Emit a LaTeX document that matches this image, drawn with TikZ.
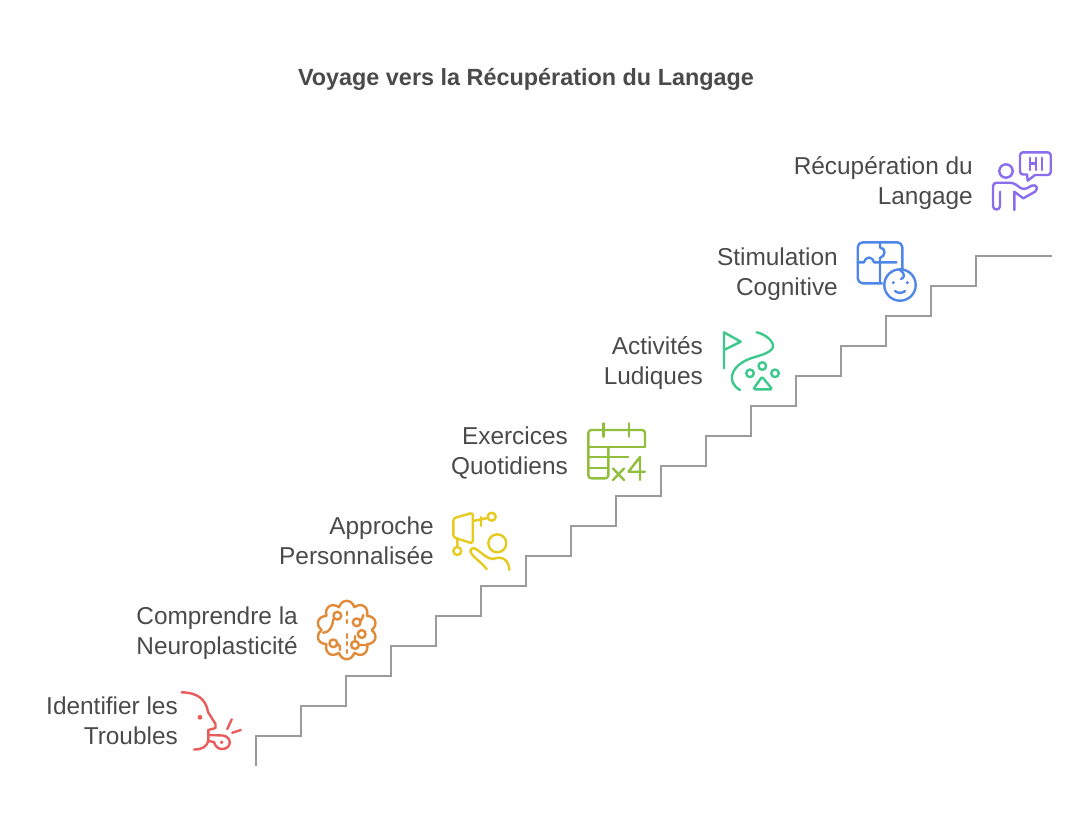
\documentclass[tikz,border=0pt]{standalone}
\usepackage{fontspec}
\setmainfont{Liberation Sans}
\definecolor{inkgray}{HTML}{4A4A4A}
\definecolor{stairgray}{HTML}{9B9B9B}
\definecolor{icred}{HTML}{E85C5C}
\definecolor{icorange}{HTML}{E08A3A}
\definecolor{icyellow}{HTML}{E6CB1E}
\definecolor{icgreen}{HTML}{92BE3E}
\definecolor{icteal}{HTML}{3DC88C}
\definecolor{icblue}{HTML}{4F87E8}
\definecolor{icpurple}{HTML}{8A6DEE}
\begin{document}
\begin{tikzpicture}[
  x=1pt, y=-1pt,
  label/.style={anchor=east, align=right, text=inkgray, inner sep=0pt,
                font=\fontsize{24.4}{30}\selectfont},
  heading/.style={text=inkgray, inner sep=0pt, font=\fontsize{23.4}{26}\selectfont\bfseries},
  stair/.style={draw=stairgray, line width=2.7pt},
  icon/.style={line width=2.4pt, line cap=round, line join=round}
]
  \useasboundingbox (0, 0) rectangle (1083, 828);

  \node[heading] (title) at (526, 79) {Voyage vers la Récupération du Langage};

  \node[label] (troubles) at (178, 721) {Identifier les\\Troubles};
  \node[label] (neuro)    at (298, 633) {Comprendre la\\Neuroplasticité};
  \node[label] (approche) at (434, 541) {Approche\\Personnalisée};
  \node[label] (exercice) at (568, 453) {Exercices\\Quotidiens};
  \node[label] (ludique)  at (703, 363) {Activités\\Ludiques};
  \node[label] (stimul)   at (838, 274) {Stimulation\\Cognitive};
  \node[label] (recup)    at (973, 183) {Récupération du\\Langage};

  \coordinate (stairbase) at (256, 766);
  \draw[stair] (stairbase) -- ++(0, -30)
    \foreach \i in {1,...,16} { -- ++(45, 0) -- ++(0, -30) } -- (1052, 256);

  % red
  \draw[icon, icred] (181.7, 692.3) .. controls (197, 692.5) and (206, 699) .. (208, 712)
    -- (215.5, 724) -- (215.5, 728) -- (208.3, 730) -- (208.3, 740)
    .. controls (207, 747) and (202, 749.5) .. (194, 749.5);
  \draw[icon, icred] (208.3, 735) -- (223, 735.5) .. controls (232, 737) and (232, 748) .. (223, 749)
    .. controls (218, 749.5) and (215, 746) .. (214, 742) -- (208.3, 741);
  \fill[icred] (200, 717.3) circle (2.4) (221.7, 742.3) circle (1.9);
  \draw[icon, icred] (231.7, 719.3) -- (227.3, 729) (240.7, 730) -- (232.3, 732.7);

  % orange
  \draw[icon, icorange] (346.7+25, 630)
    \foreach \a in {36,72,...,360} { to[bend left=70, looseness=1.5] ({346.7+25*cos(\a)}, {630+24*sin(\a)}) };
  \draw[icon, icorange] (346.7, 611.7) -- (346.7, 615) (346.7, 620) -- (346.7, 623)
    (346.7, 634) -- (346.7, 638) (346.7, 642) -- (346.7, 645) (346.7, 650) -- (346.7, 653);
  \draw[icon, icorange] (337.3, 615.7) circle (3.9) (333.5, 619) .. controls (332, 626) and (331, 632) .. (323, 632.7);
  \draw[icon, icorange] (356.7, 622.3) circle (3.9) (360.5, 621) .. controls (362, 619) and (363, 617) .. (363.3, 615);
  \draw[icon, icorange] (361.7, 634) circle (3.9);
  \draw[icon, icorange] (355, 645) circle (3.9) (358.9, 645) -- (368, 645) (355, 641) -- (355, 636);
  \draw[icon, icorange] (333.3, 643.3) circle (3.9) (337, 643.5) .. controls (340, 644) and (340, 647) .. (340, 650);

  % yellow
  \draw[icon, icyellow, rounded corners=2.5pt] (453.3, 518.3) -- (472.7, 512.7) -- (472.7, 543.5) -- (453.3, 537.3) -- cycle;
  \draw[icon, icyellow] (473, 521) -- (487.7, 518) (481, 517) -- (481, 526);
  \draw[icon, icyellow] (491.7, 516.7) circle (4) (457.3, 551) circle (4) (457.3, 538.3) -- (457.3, 547);
  \draw[icon, icyellow] (497.3, 543.3) circle (9);
  \draw[icon, icyellow] (486.7, 569) .. controls (480, 561) and (474, 558) .. (471, 553)
    .. controls (469, 549) and (473, 547) .. (476, 549) .. controls (482, 553) and (487, 559) .. (493, 559)
    .. controls (503, 555) and (509, 561) .. (509.3, 570);

  % green
  \draw[icon, icgreen, rounded corners=3pt] (645, 446.7) -- (645, 430) -- (588.3, 430) -- (588.3, 478.3) -- (608.3, 478.3) -- (608.3, 446.7);
  \draw[icon, icgreen] (588.3, 446.7) -- (645, 446.7) (588.3, 456.7) -- (628.3, 456.7) (588.3, 467.7) -- (608.3, 467.7);
  \draw[icon, icgreen] (603.3, 423.3) -- (603.3, 436.7) (629, 423.3) -- (629, 436.7);
  \draw[icon, icgreen] (613, 468.5) -- (624, 480) (624, 468.5) -- (613, 480);
  \draw[icon, icgreen] (640, 480) -- (640, 457) -- (628.5, 471.7) -- (645, 471.7);

  % teal
  \draw[icon, icteal] (724, 368.3) -- (724, 332.3) -- (740.7, 341.7) -- (724, 350);
  \draw[icon, icteal] (756.7, 332.3) .. controls (768, 335) and (776, 344) .. (772, 349)
    .. controls (766, 356) and (752, 356) .. (743, 362) .. controls (732, 368) and (726, 382) .. (740, 390);
  \draw[icon, icteal] (750, 373.3) circle (3.8) (762.3, 366) circle (3.8) (775, 373.3) circle (3.8);
  \draw[icon, icteal, rounded corners=1.5pt] (762, 376.7) -- (772.3, 389.3) -- (753.3, 389.3) -- cycle;

  % blue
  \draw[icon, icblue, rounded corners=5pt] (882, 283.3) -- (857.7, 283.3) -- (857.7, 242.3) -- (902.3, 242.3) -- (902.3, 269);
  \draw[icon, icblue] (857.7, 262.3) -- (864, 262.3) .. controls (866, 256) and (872, 256) .. (874, 262.3) -- (896.5, 262.3);
  \draw[icon, icblue] (880, 242.3) -- (880, 247.5) .. controls (886, 248) and (886, 256) .. (880, 258) -- (880, 262.3) -- (880, 283);
  \draw[icon, icblue] (900, 285) circle (15.7);
  \fill[icblue] (893.3, 282.7) circle (1.7) (907.3, 282.7) circle (1.7);
  \draw[icon, icblue] (895, 291) .. controls (898, 293.5) and (902, 293.5) .. (905, 291);
  \draw[icon, icblue] (900, 270) .. controls (905, 273) and (905, 278) .. (901, 279);

  % purple
  \draw[icon, icpurple, rounded corners=3pt] (1027, 174.5) -- (1020, 174.5) -- (1020, 152.3) -- (1050.7, 152.3) -- (1050.7, 175) -- (1035, 175);
  \draw[icon, icpurple] (1027, 174.5) -- (1027.7, 180.7) -- (1035, 175);
  \draw[icon, icpurple] (1030, 157.7) -- (1030, 170) (1035.7, 157.7) -- (1035.7, 170) (1030, 163.3) -- (1035.7, 163.3) (1041.7, 157.7) -- (1041.7, 170);
  \draw[icon, icpurple] (1006, 171) circle (6.7);
  \draw[icon, icpurple, rounded corners=3.5pt] (1000, 191.7) -- (1000, 209.5) -- (993, 209.5) -- (993, 182.7) -- (1013.3, 182.7) -- (1023.3, 190) -- (1031.7, 185.7);
  \draw[icon, icpurple] (1031.7, 185.7) .. controls (1036, 184) and (1039, 188) .. (1035, 191.7) -- (1023.3, 198.3) -- (1014.3, 191.7) -- (1014.3, 210);
\end{tikzpicture}
\end{document}
